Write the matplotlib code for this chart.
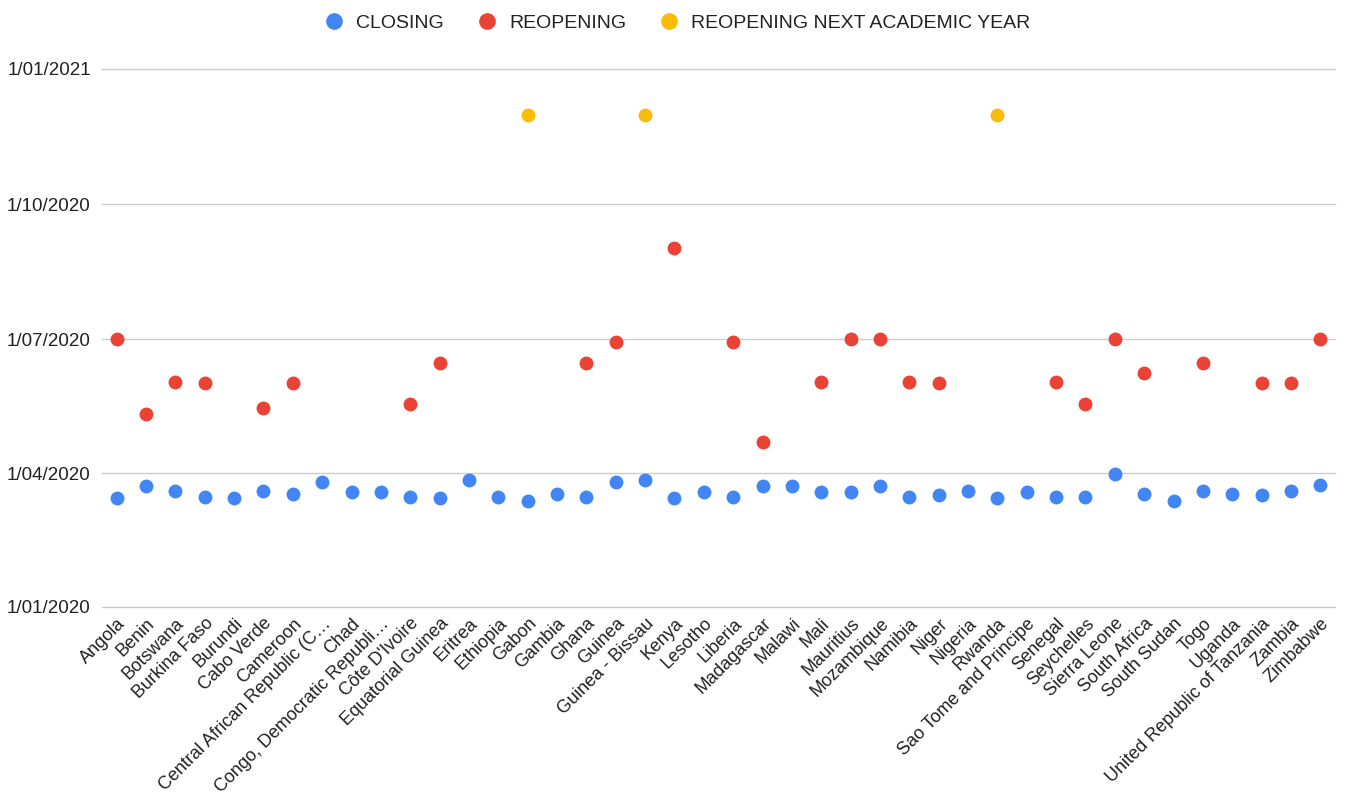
import matplotlib
matplotlib.use("Agg")
import matplotlib.pyplot as plt
import matplotlib.dates as mdates
import numpy as np
import pandas as pd

countries = [
    "Angola", "Benin", "Botswana", "Burkina Faso", "Burundi", "Cabo Verde", "Cameroon",
    "Central African Republic (C\u2026", "Chad", "Congo, Democratic Republi\u2026",
    "Côte D'Ivoire", "Equatorial Guinea", "Eritrea", "Ethiopia", "Gabon", "Gambia",
    "Ghana", "Guinea", "Guinea - Bissau", "Kenya", "Lesotho", "Liberia", "Madagascar",
    "Malawi", "Mali", "Mauritius", "Mozambique", "Namibia", "Niger", "Nigeria", "Rwanda",
    "Sao Tome and Principe", "Senegal", "Seychelles", "Sierra Leone", "South Africa",
    "South Sudan", "Togo", "Uganda", "United Republic of Tanzania", "Zambia", "Zimbabwe",
]

closing = [
    "2020-03-15", "2020-03-23", "2020-03-20", "2020-03-16", "2020-03-15", "2020-03-20",
    "2020-03-18", "2020-03-26", "2020-03-19", "2020-03-19", "2020-03-16", "2020-03-15",
    "2020-03-27", "2020-03-16", "2020-03-13", "2020-03-18", "2020-03-16", "2020-03-26",
    "2020-03-27", "2020-03-15", "2020-03-19", "2020-03-16", "2020-03-23", "2020-03-23",
    "2020-03-19", "2020-03-19", "2020-03-23", "2020-03-16", "2020-03-17", "2020-03-20",
    "2020-03-15", "2020-03-19", "2020-03-16", "2020-03-16", "2020-03-31", "2020-03-18",
    "2020-03-13", "2020-03-20", "2020-03-18", "2020-03-17", "2020-03-20", "2020-03-24",
]

reopening = [
    "2020-07-01", "2020-05-11", "2020-06-02", "2020-06-01", None, "2020-05-15",
    "2020-06-01", None, None, None, "2020-05-18", "2020-06-15",
    None, None, None, None, "2020-06-15", "2020-06-29",
    None, "2020-09-01", None, "2020-06-29", "2020-04-22", None,
    "2020-06-02", "2020-07-01", "2020-07-01", "2020-06-02", "2020-06-01", None,
    None, None, "2020-06-02", "2020-05-18", "2020-07-01", "2020-06-08",
    None, "2020-06-15", None, "2020-06-01", "2020-06-01", "2020-07-01",
]

reopening_next_year = [
    None, None, None, None, None, None, None, None, None, None, None, None, None, None,
    "2020-12-01", None, None, None, "2020-12-01", None, None, None, None, None, None,
    None, None, None, None, None, "2020-12-01", None, None, None, None, None, None,
    None, None, None, None, None,
]

yticks = ["2020-01-01", "2020-04-01", "2020-07-01", "2020-10-01", "2021-01-01"]
ytick_labels = ["1/01/2020", "1/04/2020", "1/07/2020", "1/10/2020", "1/01/2021"]

series = [
    ("CLOSING", closing, "#4285F4"),
    ("REOPENING", reopening, "#EA4335"),
    ("REOPENING NEXT ACADEMIC YEAR", reopening_next_year, "#FBBC04"),
]

plt.rcParams["font.family"] = ["Liberation Sans", "DejaVu Sans"]

fig = plt.figure(figsize=(13.45, 8.02), dpi=100)
ax = fig.add_axes([0.0758, 0.2435, 0.9168, 0.6705])

x = np.arange(len(countries))
for name, vals, color in series:
    d = pd.to_datetime(pd.Series(vals))
    mask = d.notna().values
    ax.plot(x[mask], mdates.date2num(d[mask].dt.to_pydatetime()), "o", color=color,
            markersize=10, markeredgewidth=0, label=name, zorder=3)

ax.set_xlim(-0.5, len(countries) - 0.5)
ax.set_ylim(mdates.date2num(pd.Timestamp(yticks[0])), mdates.date2num(pd.Timestamp(yticks[-1])))
ax.set_yticks([mdates.date2num(pd.Timestamp(t)) for t in yticks])
ax.set_yticklabels(ytick_labels, fontsize=13.5, color="#222222")
ax.set_xticks(x)
ax.set_xticklabels(countries, rotation=45, ha="right", rotation_mode="anchor",
                   fontsize=13, color="#222222")
ax.tick_params(axis="both", length=0)
ax.tick_params(axis="y", pad=8)
ax.tick_params(axis="x", pad=6)
ax.grid(axis="y", color="#cccccc", linewidth=1)
for gl in ax.get_ygridlines():
    gl.set_clip_on(False)
ax.set_axisbelow(True)
for s in ax.spines.values():
    s.set_visible(False)

fig.legend(loc="upper center", bbox_to_anchor=(0.5, 0.997), ncol=3, frameon=False,
           fontsize=14, handletextpad=0.15, columnspacing=1.2, borderaxespad=0.2,
           markerscale=1.2, labelcolor="#222222")

fig.savefig("out.png", dpi=100)
